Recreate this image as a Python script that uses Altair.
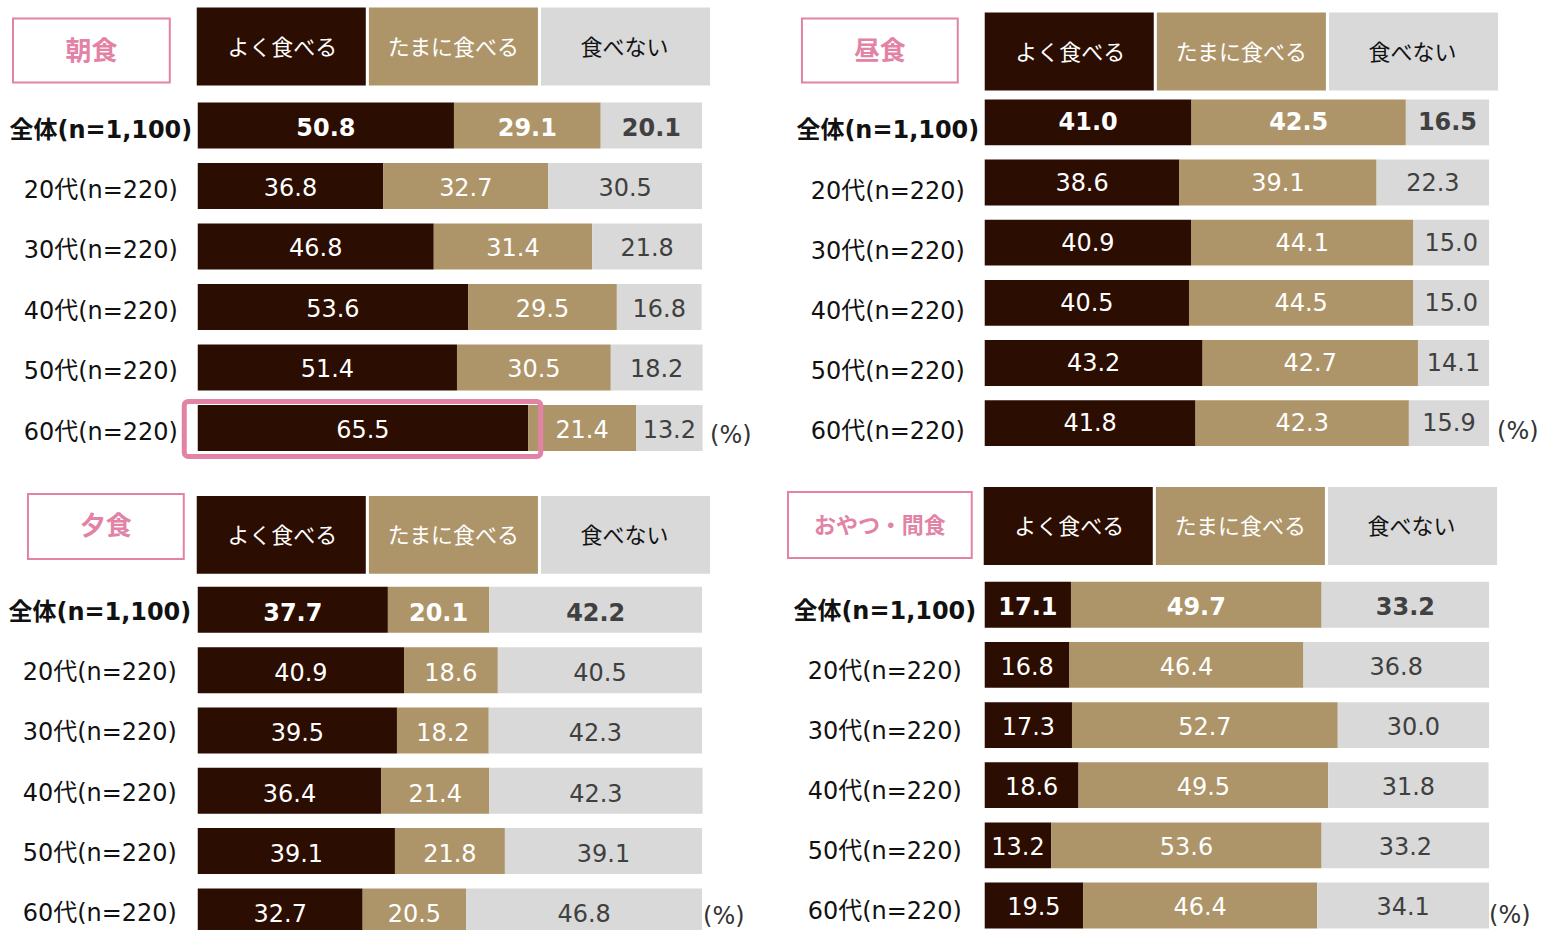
import altair as alt
import pandas as pd

rows = ["全体(n=1,100)", "20代(n=220)", "30代(n=220)", "40代(n=220)", "50代(n=220)", "60代(n=220)"]
cats = ["よく食べる", "たまに食べる", "食べない"]

breakfast_often = [50.8, 36.8, 46.8, 53.6, 51.4, 65.5]
breakfast_some = [29.1, 32.7, 31.4, 29.5, 30.5, 21.4]
breakfast_never = [20.1, 30.5, 21.8, 16.8, 18.2, 13.2]

lunch_often = [41.0, 38.6, 40.9, 40.5, 43.2, 41.8]
lunch_some = [42.5, 39.1, 44.1, 44.5, 42.7, 42.3]
lunch_never = [16.5, 22.3, 15.0, 15.0, 14.1, 15.9]

dinner_often = [37.7, 40.9, 39.5, 36.4, 39.1, 32.7]
dinner_some = [20.1, 18.6, 18.2, 21.4, 21.8, 20.5]
dinner_never = [42.2, 40.5, 42.3, 42.3, 39.1, 46.8]

snack_often = [17.1, 16.8, 17.3, 18.6, 13.2, 19.5]
snack_some = [49.7, 46.4, 52.7, 49.5, 53.6, 46.4]
snack_never = [33.2, 36.8, 30.0, 31.8, 33.2, 34.1]

COLORS = ["#2B0D01", "#AD9569", "#D9D9D9"]
PINK = "#E283A5"
FONT = "DejaVu Sans, Noto Sans CJK JP, sans-serif"
JFONT = "Noto Sans CJK JP, sans-serif"


def long_df(often, some, never):
    recs = []
    for i, r in enumerate(rows):
        start = 0.0
        for c, v in zip(cats, [often[i], some[i], never[i]]):
            recs.append(dict(row=r, cat=c, value=v, start=start, end=start + v,
                             mid=start + v / 2, label=f"{v:.1f}"))
            start += v
    return pd.DataFrame(recs)


def panel(title, often, some, never, cfg, highlight=False):
    df = long_df(often, some, never)
    rowdf = pd.DataFrame({"row": rows})
    hdr = pd.DataFrame({"cat": cats})
    tdf = pd.DataFrame({"title": [title]})

    yscale = alt.Scale(domain=rows, range=[cfg["shift"], cfg["shift"] + cfg["H"]],
                       paddingInner=0.238, paddingOuter=0)
    Y = alt.Y("row:N", scale=yscale, axis=None)
    xs = alt.Scale(domain=[0, 100], nice=False, zero=True)
    color = alt.Color("cat:N", scale=alt.Scale(domain=cats, range=COLORS), legend=None)

    # header (legend boxes)
    hx = alt.X("cat:N", scale=alt.Scale(domain=cats, range=cfg["hx"], paddingInner=0.018,
                                        paddingOuter=0), axis=None)
    hy0, hy1 = cfg["hy"]
    hrect = alt.Chart(hdr).mark_rect().encode(
        x=hx, y=alt.value(hy0), y2=alt.value(hy1), color=color)
    htext = alt.Chart(hdr).mark_text(font=JFONT, fontSize=22, dy=1).encode(
        x=hx, y=alt.value((hy0 + hy1) / 2), text="cat:N",
        color=alt.condition(alt.datum.cat == "食べない", alt.value("#111111"), alt.value("white")))

    # title box
    tx0, tx1, ty0, ty1 = cfg["tbox"]
    tbox = alt.Chart(tdf).mark_rect(fill="white", stroke=PINK, strokeWidth=2).encode(
        x=alt.value(tx0), x2=alt.value(tx1), y=alt.value(ty0), y2=alt.value(ty1))
    ttext = alt.Chart(tdf).mark_text(font=JFONT, fontSize=cfg["tsize"], fontWeight="bold",
                                     color=PINK, dy=1).encode(
        x=alt.value((tx0 + tx1) / 2), y=alt.value((ty0 + ty1) / 2), text="title:N")

    # bars
    bars = alt.Chart(df).mark_bar().encode(
        x=alt.X("start:Q", scale=xs, axis=None), x2="end:Q", y=Y, color=color)

    txt_color = alt.condition(alt.datum.cat == "食べない", alt.value("#404040"), alt.value("white"))
    base_txt = alt.Chart(df).encode(
        x=alt.X("mid:Q", scale=xs, axis=None), y=Y, text="label:N", color=txt_color)
    t_norm = base_txt.transform_filter(alt.datum.row != rows[0]).mark_text(
        font=FONT, fontSize=24, dy=cfg["tdy"])
    t_bold = base_txt.transform_filter(alt.datum.row == rows[0]).mark_text(
        font=FONT, fontSize=24, fontWeight="bold", dy=cfg["tdy"])

    # row labels
    lab = alt.Chart(rowdf).encode(x=alt.value(cfg["lx"]), y=Y, text="row:N")
    l_norm = lab.transform_filter(alt.datum.row != rows[0]).mark_text(
        font=FONT, fontSize=24, color="#111111", align="center", dy=cfg["ldy"])
    l_bold = lab.transform_filter(alt.datum.row == rows[0]).mark_text(
        font=FONT, fontSize=24, fontWeight="bold", color="#111111", align="center",
        dy=cfg["ldy"])

    # (%) unit
    pct = alt.Chart(rowdf).transform_filter(alt.datum.row == rows[-1]).mark_text(
        font=FONT, fontSize=24, color="#333333", align="left", dy=cfg["pdy"]).encode(
        x=alt.value(cfg["px"]), y=Y, text=alt.value("(%)"))

    layers = [hrect, htext, tbox, ttext, bars, t_norm, t_bold, l_norm, l_bold, pct]

    if highlight:
        hl = alt.Chart(df).transform_filter(
            (alt.datum.row == rows[-1]) & (alt.datum.cat == cats[0])
        ).mark_rect(filled=False, stroke=PINK, strokeWidth=5, cornerRadius=4,
                    xOffset=-13.5, x2Offset=12.7, yOffset=-3.5, y2Offset=5.5).encode(
            x=alt.X("start:Q", scale=xs, axis=None), x2="end:Q",
            y=alt.Y("row:N", scale=yscale, axis=None, bandPosition=0),
            y2=alt.Y2("row", bandPosition=1))
        layers.append(hl)

    return alt.layer(*layers).resolve_scale(x="independent").properties(width=505, height=348)


tl = panel("朝食", breakfast_often, breakfast_some, breakfast_never,
           dict(shift=0, H=349, hx=[-1, 513], hy=(-95, -17), tbox=(-185, -28, -84, -20),
                tsize=26, lx=-97, px=513, pdy=8, ldy=5, tdy=3), highlight=True)
tr = panel("昼食", lunch_often, lunch_some, lunch_never,
           dict(shift=-3, H=347, hx=[0, 514], hy=(-90, -12), tbox=(-183, -27, -84, -20),
                tsize=26, lx=-97, px=513, pdy=9, ldy=9, tdy=1))
bl = panel("夕食", dinner_often, dinner_some, dinner_never,
           dict(shift=0, H=348, hx=[-1, 513], hy=(-91, -13), tbox=(-170, -14, -93, -28),
                tsize=26, lx=-98, px=506, pdy=6, ldy=3, tdy=4))
br = panel("おやつ・間食", snack_often, snack_some, snack_never,
           dict(shift=-5, H=347, hx=[-1, 513], hy=(-100, -22), tbox=(-197, -13, -95, -29),
                tsize=22, lx=-100, px=505, pdy=11, ldy=7, tdy=3))

chart = alt.concat(tl, tr, bl, br, columns=2, spacing={"row": 137, "column": 283},
                   bounds="flush").properties(
    padding={"left": 8, "top": 7, "right": 5, "bottom": 5},
    background="white",
).configure_view(stroke=None)

chart.save("out.html", embed_options={"renderer": "svg", "actions": False})
